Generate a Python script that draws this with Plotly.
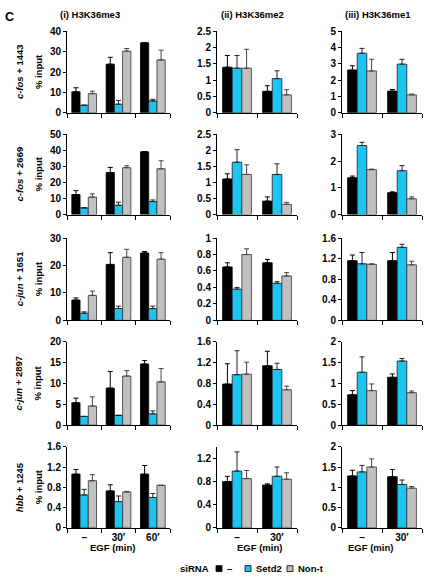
import plotly.graph_objects as go

W, H = 424, 580

# ---------------- data ----------------
series_names = ["–", "Setd2", "Non-t"]
time_3 = ["–", "30′", "60′"]
time_2 = ["–", "30′"]
column_titles = ["(i) H3K36me3", "(ii) H3K36me2", "(iii) H3K36me1"]
row_labels = ["<i>c-fos</i> + 1443", "<i>c-fos</i> + 2669", "<i>c-jun</i> + 1651",
              "<i>c-jun</i> + 2897", "<i>hbb</i> + 1245"]

# each panel: [black(–), blue(Setd2), grey(Non-t)] values per EGF time; *_err = upper error size
cfos1443_me3 = [[10.3, 23.9, 34.4], [3.7, 4.2, 5.8], [9.4, 30.3, 26.0]]
cfos1443_me3_err = [[2.0, 3.4, 0], [0, 1.9, 0.8], [1.2, 1.3, 4.8]]
cfos1443_me2 = [[1.40, 0.66], [1.37, 1.05], [1.37, 0.55]]
cfos1443_me2_err = [[0.36, 0.17], [0.39, 0.24], [0.58, 0.16]]
cfos1443_me1 = [[2.63, 1.33], [3.66, 2.99], [2.57, 1.10]]
cfos1443_me1_err = [[0.26, 0.10], [0.30, 0.30], [0.72, 0.05]]

cfos2669_me3 = [[12.5, 26.2, 39.1], [4.2, 5.8, 8.1], [10.9, 29.2, 28.5]]
cfos2669_me3_err = [[2.4, 3.2, 0], [0, 1.9, 1.0], [2.0, 1.2, 5.0]]
cfos2669_me2 = [[1.11, 0.42], [1.63, 1.25], [1.25, 0.32]]
cfos2669_me2_err = [[0.16, 0.13], [0.39, 0.33], [0.30, 0.06]]
cfos2669_me1 = [[1.38, 0.82], [2.58, 1.64], [1.68, 0.59]]
cfos2669_me1_err = [[0.06, 0.03], [0.12, 0.19], [0.02, 0.07]]

cjun1651_me3 = [[7.4, 20.4, 24.6], [2.6, 4.3, 4.3], [9.1, 23.0, 22.3]]
cjun1651_me3_err = [[0.8, 4.3, 0.5], [0.5, 0.9, 0.9], [1.6, 2.9, 2.4]]
cjun1651_me2 = [[0.65, 0.70], [0.38, 0.45], [0.80, 0.54]]
cjun1651_me2_err = [[0.05, 0.04], [0.02, 0.02], [0.07, 0.04]]
cjun1651_me1 = [[1.16, 1.16], [1.10, 1.42], [1.09, 1.08]]
cjun1651_me1_err = [[0.11, 0.16], [0.22, 0.06], [0.01, 0.07]]

cjun2897_me3 = [[5.4, 8.9, 14.7], [2.1, 2.35, 2.7], [4.6, 11.8, 10.4]]
cjun2897_me3_err = [[1.1, 4.0, 0.8], [0, 0, 0.7], [2.2, 1.3, 3.2]]
cjun2897_me2 = [[0.79, 1.14], [0.97, 1.07], [0.98, 0.68]]
cjun2897_me2_err = [[0.39, 0.28], [0.46, 0.12], [0.23, 0.07]]
cjun2897_me1 = [[0.73, 1.15], [1.27, 1.54], [0.83, 0.78]]
cjun2897_me1_err = [[0.10, 0.08], [0.37, 0.06], [0.16, 0.04]]

hbb1245_me3 = [[1.06, 0.73, 1.06], [0.65, 0.52, 0.60], [0.93, 0.71, 0.84]]
hbb1245_me3_err = [[0.09, 0.12, 0.17], [0.11, 0.11, 0.08], [0.12, 0.01, 0]]
hbb1245_me2 = [[0.80, 0.74], [0.98, 0.89], [0.85, 0.84]]
hbb1245_me2_err = [[0.09, 0.02], [0.33, 0.16], [0.14, 0.11]]
hbb1245_me1 = [[1.28, 1.26], [1.38, 1.07], [1.50, 0.98]]
hbb1245_me1_err = [[0.14, 0.18], [0.16, 0.11], [0.20, 0.04]]

y_max = [[40, 2.5, 5], [50, 2.5, 3], [30, 1, 1.6], [20, 1.6, 2], [1.6, 1.4, 2]]
y_dtick = [[10, 0.5, 1], [10, 0.5, 1], [10, 0.2, 0.4], [5, 0.4, 0.5], [0.4, 0.4, 0.5]]

# ---------------- styles / layout ----------------
panel_vals = [
    [cfos1443_me3, cfos1443_me2, cfos1443_me1],
    [cfos2669_me3, cfos2669_me2, cfos2669_me1],
    [cjun1651_me3, cjun1651_me2, cjun1651_me1],
    [cjun2897_me3, cjun2897_me2, cjun2897_me1],
    [hbb1245_me3, hbb1245_me2, hbb1245_me1],
]
panel_errs = [
    [cfos1443_me3_err, cfos1443_me2_err, cfos1443_me1_err],
    [cfos2669_me3_err, cfos2669_me2_err, cfos2669_me1_err],
    [cjun1651_me3_err, cjun1651_me2_err, cjun1651_me1_err],
    [cjun2897_me3_err, cjun2897_me2_err, cjun2897_me1_err],
    [hbb1245_me3_err, hbb1245_me2_err, hbb1245_me1_err],
]

colors = ["#000000", "#1CC4F2", "#C0C0C0"]
edge_colors = ["#000000", "#1a1a1a", "#333333"]
err_colors = ["#000000", "#222222", "#444444"]

col_px = [(67, 170), (217, 297), (342, 422)]
row_px = [(26, 109), (131, 213), (237, 321), (343, 428), (450, 533)]

FONT = "Liberation Sans, Arial, Helvetica, sans-serif"
FS = 9.5
TFS = 10

fig = go.Figure()
layout = {}

for r in range(5):
    for c in range(3):
        n = r * 3 + c + 1
        cats = time_3 if c == 0 else time_2
        xs = list(range(len(cats)))
        vals = panel_vals[r][c]
        errs = panel_errs[r][c]
        for s in range(3):
            fig.add_trace(go.Bar(
                x=xs, y=vals[s], name=series_names[s], showlegend=False,
                marker=dict(color=colors[s], line=dict(color=edge_colors[s], width=0.8)),
                error_y=dict(type="data", symmetric=False, array=errs[s],
                             arrayminus=[0] * len(xs), color=err_colors[s],
                             thickness=1, width=2.5),
                xaxis=f"x{n}", yaxis=f"y{n}",
            ))
        x0, x1 = col_px[c]
        y0, y1 = row_px[r]
        layout[f"xaxis{n}"] = dict(
            domain=[x0 / W, x1 / W], anchor=f"y{n}",
            range=[-0.5, len(cats) - 0.5],
            showline=True, linecolor="black", linewidth=1,
            tickmode="array", tickvals=xs,
            ticktext=cats if r == 4 else [""] * len(cats),
            ticks="", showgrid=False, zeroline=False,
            tickfont=dict(family=FONT, size=TFS, color="black", weight="bold"),
            minor=dict(tickmode="array", tickvals=[i - 0.5 for i in range(len(cats) + 1)],
                       ticks="outside", ticklen=4, tickwidth=1, tickcolor="black",
                       showgrid=False),
            fixedrange=True,
        )
        layout[f"yaxis{n}"] = dict(
            domain=[1 - y1 / H, 1 - y0 / H], anchor=f"x{n}",
            range=[0, y_max[r][c]], tick0=0, dtick=y_dtick[r][c],
            showline=True, linecolor="black", linewidth=1,
            ticks="outside", ticklen=3, tickwidth=1, tickcolor="black",
            showgrid=False, zeroline=False,
            tickfont=dict(family=FONT, size=TFS, color="black", weight="bold"),
            fixedrange=True,
        )

annotations = []
shapes = []

def px_ann(text, x, y, size=FS, xanchor="center", yanchor="middle", angle=0):
    annotations.append(dict(
        text=text, x=x / W, y=1 - y / H, xref="paper", yref="paper",
        xanchor=xanchor, yanchor=yanchor, showarrow=False, textangle=angle,
        font=dict(family=FONT, size=size, color="black", weight="bold"),
    ))

px_ann("C", 3, 11, size=12.5, xanchor="left")
for c, (cx, t) in enumerate(zip([90, 252, 378], column_titles)):
    px_ann(t, cx, 9)
for r in range(5):
    cy = (row_px[r][0] + row_px[r][1]) / 2
    px_ann(row_labels[r], 19, cy, angle=-90)
    px_ann("% input", 38, cy, angle=-90)
for cx in [112, 259, 370]:
    px_ann("EGF (min)", cx, 553)

# legend
leg_y = 574.5
px_ann("siRNA", 211, leg_y, xanchor="right")
box = 6
for bx, tx, s in [(216, 225, 0), (245, 254, 1), (287, 296, 2)]:
    shapes.append(dict(type="rect", xref="paper", yref="paper",
                       x0=bx / W, x1=(bx + box) / W,
                       y0=1 - (leg_y + box / 2) / H, y1=1 - (leg_y - box / 2) / H,
                       fillcolor=colors[s], line=dict(color="black", width=0.8)))
    px_ann(series_names[s], tx, leg_y, xanchor="left")

fig.update_layout(
    width=W, height=H, autosize=False,
    margin=dict(l=0, r=0, t=0, b=0),
    paper_bgcolor="white", plot_bgcolor="white",
    barmode="group", bargap=0.28, bargroupgap=0,
    annotations=annotations, shapes=shapes,
    showlegend=False, hovermode=False,
    font=dict(family=FONT, size=FS, color="black"),
    **layout,
)

fig.write_html(
    "out.html",
    config={"displayModeBar": False, "staticPlot": True},
    post_script="document.body.style.margin='0';document.body.style.overflow='hidden';",
)
